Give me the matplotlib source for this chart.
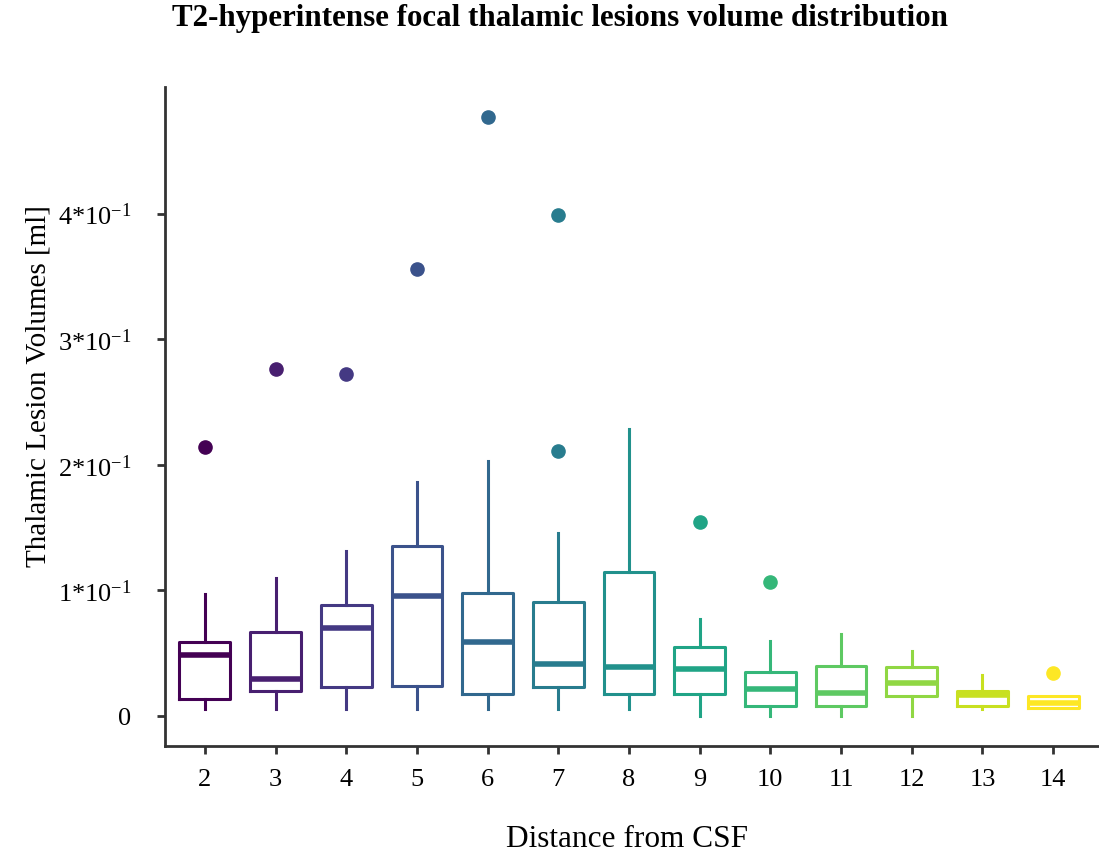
import numpy as np
import matplotlib as mpl
mpl.use('Agg')
import matplotlib.pyplot as plt

# distance from CSF (x categories)
distance = [2, 3, 4, 5, 6, 7, 8, 9, 10, 11, 12, 13, 14]

# box summary statistics [ml]
q1 = [0.0135, 0.020, 0.023, 0.024, 0.0175, 0.023, 0.0175,
      0.0175, 0.008, 0.008, 0.016, 0.008, 0.0064]
median = [0.0486, 0.0295, 0.070, 0.0956, 0.059, 0.0414, 0.039,
          0.0375, 0.0215, 0.0183, 0.0263, 0.0167, 0.0105]
q3 = [0.059, 0.067, 0.0885, 0.1355, 0.098, 0.091, 0.1147,
      0.055, 0.035, 0.040, 0.039, 0.020, 0.016]
whisker_low = [0.0056, 0.0056, 0.0056, 0.0056, 0.0056, 0.0056, 0.0056,
               0.0, 0.0, 0.0, 0.0, 0.0056, 0.0064]
whisker_high = [0.097, 0.110, 0.1315, 0.1865, 0.203, 0.146, 0.2287,
                0.077, 0.060, 0.065, 0.052, 0.0327, 0.016]
outliers = [[0.214], [0.2765], [0.272], [0.356], [0.477], [0.399, 0.211],
            [], [0.1546], [0.107], [], [], [], [0.034]]

y_ticks = [0, 0.1, 0.2, 0.3, 0.4]
y_tick_labels = ['0', r'1*10$^{-1}$', r'2*10$^{-1}$',
                 r'3*10$^{-1}$', r'4*10$^{-1}$']

plt.rcParams['font.family'] = ['Liberation Serif', 'DejaVu Serif']
plt.rcParams['mathtext.fontset'] = 'custom'
plt.rcParams['mathtext.rm'] = 'Liberation Serif'
plt.rcParams['mathtext.it'] = 'Liberation Serif:italic'
plt.rcParams['mathtext.bf'] = 'Liberation Serif:bold'

colors = plt.cm.viridis(np.linspace(0, 1, len(distance)))

fig = plt.figure(figsize=(10.99, 8.54), dpi=100)
ax = fig.add_axes([0.150, 0.1253, 0.850, 0.772])

for i, d in enumerate(distance):
    stats = [{
        'med': median[i],
        'q1': q1[i],
        'q3': q3[i],
        'whislo': whisker_low[i],
        'whishi': whisker_high[i],
        'fliers': outliers[i],
    }]
    c = colors[i]
    ax.bxp(
        stats,
        positions=[d],
        widths=0.72,
        showcaps=False,
        boxprops=dict(color=c, linewidth=2.2),
        whiskerprops=dict(color=c, linewidth=2.2),
        medianprops=dict(color=c, linewidth=4.0, solid_capstyle='butt'),
        flierprops=dict(marker='o', markerfacecolor=c, markeredgecolor=c,
                        markersize=9.5, linestyle='none'),
    )

ax.set_xlim(1.433, 14.65)
ax.set_ylim(-0.0239, 0.501)

ax.set_xticks(distance)
ax.set_xticklabels([str(d) for d in distance])
ax.set_yticks(y_ticks)
ax.set_yticklabels(y_tick_labels)

for side in ['top', 'right']:
    ax.spines[side].set_visible(False)
for side in ['left', 'bottom']:
    ax.spines[side].set_linewidth(2.0)
    ax.spines[side].set_color('#333333')

ax.tick_params(axis='both', direction='out', length=6, width=2.0,
               color='#333333', labelsize=19)
ax.tick_params(axis='x', pad=10)
ax.tick_params(axis='y', pad=18)

ax.set_xlabel('Distance from CSF', fontsize=22.5)
ax.xaxis.set_label_coords(0.495, -0.119)
ax.set_ylabel('Thalamic Lesion Volumes [ml]', fontsize=21)
ax.yaxis.set_label_coords(-0.121, 0.548)

fig.suptitle('T2-hyperintense focal thalamic lesions volume distribution',
             fontsize=22.3, fontweight='bold', x=0.5096, y=0.995)

plt.savefig('out.png', dpi=100)
plt.close()
